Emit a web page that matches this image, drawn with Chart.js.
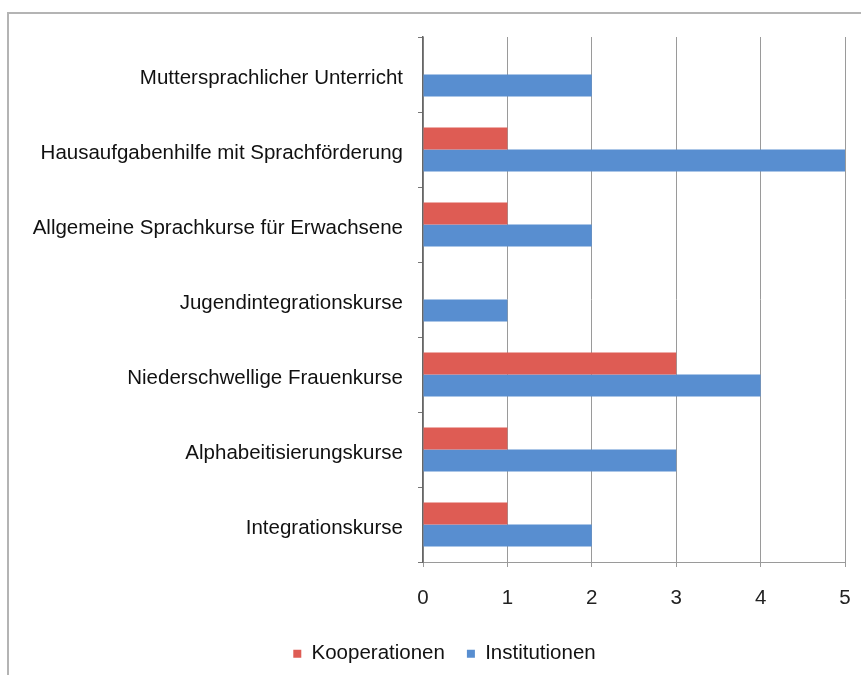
<!DOCTYPE html>
<html>
<head>
<meta charset="utf-8">
<script src="https://cdn.jsdelivr.net/npm/chart.js@4/dist/chart.umd.min.js"></script>
<style>
  html, body { margin: 0; padding: 0; background: #fff; }
  #wrap { position: relative; width: 861px; height: 675px; overflow: hidden; }
  #frame { position: absolute; left: 7px; top: 12px; width: 900px; height: 700px;
           border-left: 2px solid #b4b4b4; border-top: 2px solid #b4b4b4; box-sizing: border-box; }
  canvas { position: absolute; left: 0; top: 0; }
</style>
</head>
<body>
<div id="wrap">
  <div id="frame"></div>
  <canvas id="c" width="861" height="675"></canvas>
</div>
<script>
const categories = [
  "Muttersprachlicher Unterricht",
  "Hausaufgabenhilfe mit Sprachförderung",
  "Allgemeine Sprachkurse für Erwachsene",
  "Jugendintegrationskurse",
  "Niederschwellige Frauenkurse",
  "Alphabeitisierungskurse",
  "Integrationskurse"
];
const kooperationen = [0, 1, 1, 0, 3, 1, 1];
const institutionen = [2, 5, 2, 1, 4, 3, 2];
const seriesNames = ["Kooperationen", "Institutionen"];
const xTicks = [0, 1, 2, 3, 4, 5];

const FONT = "'Liberation Sans', Arial, Helvetica, sans-serif";
const fontSize = 20.5;

function grad(ctx, base, light, dark) {
  const el = ctx.element;
  const chart = ctx.chart;
  if (!el || !chart.chartArea || el.y === undefined || !el.height) return base;
  const h = el.height;
  const g = chart.ctx.createLinearGradient(0, el.y - h / 2, 0, el.y + h / 2);
  g.addColorStop(0, light);
  g.addColorStop(0.5, base);
  g.addColorStop(1, dark);
  return g;
}

const shiftLegend = {
  id: 'shiftLegend',
  afterLayout(chart) {
    if (chart.legend) { chart.legend.left += 22; chart.legend.right += 22; }
  }
};

new Chart(document.getElementById('c'), {
  type: 'bar',
  data: {
    labels: categories,
    datasets: [
      {
        label: seriesNames[0],
        data: kooperationen,
        backgroundColor: (ctx) => grad(ctx, 'rgb(222,92,84)', 'rgb(236,128,118)', 'rgb(205,72,66)'),
        borderWidth: 0
      },
      {
        label: seriesNames[1],
        data: institutionen,
        backgroundColor: (ctx) => grad(ctx, 'rgb(88,142,208)', 'rgb(122,170,225)', 'rgb(70,122,190)'),
        borderWidth: 0
      }
    ]
  },
  plugins: [shiftLegend],
  options: {
    indexAxis: 'y',
    responsive: false,
    animation: false,
    devicePixelRatio: 1,
    layout: { padding: { top: 37, right: 16, bottom: 1, left: 0 } },
    datasets: { bar: { barPercentage: 1.0, categoryPercentage: 0.587 } },
    scales: {
      x: {
        min: 0, max: 5,
        afterBuildTicks: (scale) => { scale.ticks = xTicks.map(v => ({ value: v })); },
        afterFit: (scale) => { scale.height = 59.5; scale.paddingLeft = 0; scale.paddingRight = 0; },
        grid: { color: '#9a9a9a', lineWidth: 1, drawTicks: true, tickLength: 5, tickColor: '#9a9a9a' },
        border: { display: true, color: '#9a9a9a', width: 1 },
        ticks: { color: '#222', font: { family: FONT, size: fontSize }, padding: 19 }
      },
      y: {
        afterFit: (scale) => { scale.width = 423; scale.paddingTop = 0; scale.paddingBottom = 0; },
        grid: { drawOnChartArea: false, drawTicks: true, tickLength: 5, tickColor: '#777', offset: true },
        border: { display: true, color: '#666', width: 1.5 },
        ticks: { color: '#111', font: { family: FONT, size: fontSize }, padding: 15, labelOffset: 4 }
      }
    },
    plugins: {
      legend: {
        position: 'bottom',
        labels: {
          color: '#111',
          font: { family: FONT, size: fontSize },
          boxWidth: 8, boxHeight: 8,
          padding: 22,
          generateLabels: (chart) => chart.data.datasets.map((ds, i) => ({
            text: ds.label,
            fillStyle: i === 0 ? 'rgb(222,92,84)' : 'rgb(88,142,208)',
            strokeStyle: 'rgba(0,0,0,0)',
            lineWidth: 0,
            hidden: false,
            datasetIndex: i,
            fontColor: '#111'
          }))
        }
      },
      tooltip: { enabled: false }
    }
  }
});
</script>
</body>
</html>
